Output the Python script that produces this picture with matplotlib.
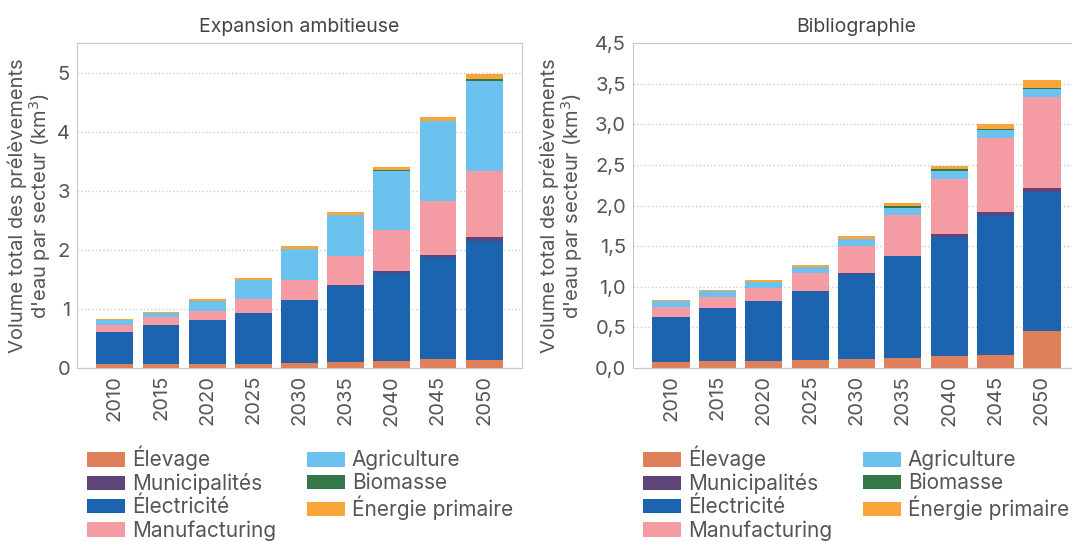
import matplotlib.pyplot as plt
from matplotlib.patches import Patch
import numpy as np

plt.rcParams['font.family'] = ['Inter', 'DejaVu Sans']

years = ['2010', '2015', '2020', '2025', '2030', '2035', '2040', '2045', '2050']
sectors = ['Élevage', 'Électricité', 'Municipalités', 'Manufacturing',
           'Agriculture', 'Biomasse', 'Énergie primaire']
colors = {'Élevage': '#E0805A', 'Municipalités': '#5E4479', 'Électricité': '#1C64B0',
          'Manufacturing': '#F49BA4', 'Agriculture': '#6CC2EE', 'Biomasse': '#35774A',
          'Énergie primaire': '#F8A53A'}

# Expansion ambitieuse (km3)
exp_elevage = [0.06, 0.07, 0.07, 0.07, 0.09, 0.11, 0.12, 0.16, 0.14]
exp_electricite = [0.55, 0.66, 0.74, 0.86, 1.06, 1.28, 1.49, 1.72, 2.01]
exp_municipalites = [0.0, 0.005, 0.005, 0.005, 0.005, 0.01, 0.04, 0.035, 0.07]
exp_manufacturing = [0.12, 0.13, 0.15, 0.225, 0.34, 0.5, 0.69, 0.91, 1.115]
exp_agriculture = [0.085, 0.06, 0.165, 0.33, 0.52, 0.69, 0.99, 1.35, 1.52]
exp_biomasse = [0.0, 0.0, 0.0, 0.0, 0.0, 0.0, 0.02, 0.01, 0.035]
exp_energie = [0.015, 0.02, 0.04, 0.035, 0.05, 0.05, 0.05, 0.06, 0.085]

# Bibliographie (km3)
bib_elevage = [0.08, 0.09, 0.09, 0.10, 0.115, 0.127, 0.15, 0.165, 0.46]
bib_electricite = [0.55, 0.65, 0.74, 0.85, 1.045, 1.25, 1.465, 1.715, 1.71]
bib_municipalites = [0.0, 0.0, 0.0, 0.0, 0.005, 0.005, 0.03, 0.045, 0.05]
bib_manufacturing = [0.12, 0.13, 0.15, 0.215, 0.34, 0.505, 0.685, 0.9, 1.12]
bib_agriculture = [0.075, 0.08, 0.075, 0.08, 0.085, 0.086, 0.1, 0.1, 0.095]
bib_biomasse = [0.0, 0.0, 0.0, 0.0, 0.0, 0.024, 0.025, 0.012, 0.012]
bib_energie = [0.012, 0.016, 0.025, 0.025, 0.037, 0.037, 0.037, 0.07, 0.1]

exp_data = [exp_elevage, exp_electricite, exp_municipalites, exp_manufacturing,
            exp_agriculture, exp_biomasse, exp_energie]
bib_data = [bib_elevage, bib_electricite, bib_municipalites, bib_manufacturing,
            bib_agriculture, bib_biomasse, bib_energie]

legend_order = ['Élevage', 'Municipalités', 'Électricité', 'Manufacturing',
                'Agriculture', 'Biomasse', 'Énergie primaire']

W, H = 1072, 541
fig = plt.figure(figsize=(W / 100, H / 100), dpi=100)

def px(x0, y0, x1, y1):
    return [x0 / W, 1 - y1 / H, (x1 - x0) / W, (y1 - y0) / H]

ax1 = fig.add_axes(px(77, 43, 522, 368))
ax2 = fig.add_axes(px(633, 43, 1080, 368))

grey = '#555555'

def draw(ax, data, title, ylim, yticks, ylabels, lx):
    x = np.arange(len(years))
    bottom = np.zeros(len(years))
    for name, vals in zip(sectors, data):
        ax.bar(x, vals, 0.8, bottom=bottom, color=colors[name], linewidth=0)
        bottom += np.array(vals)
    ax.set_xlim(-0.82, 8.82)
    ax.set_ylim(*ylim)
    ax.set_xticks(x)
    ax.set_xticklabels(years, rotation=90)
    ax.set_yticks(yticks)
    ax.set_yticklabels(ylabels)
    ax.tick_params(length=0, labelsize=14.5, colors=grey, pad=5)
    ax.grid(axis='y', linestyle=':', color='#cccccc', linewidth=1)
    ax.set_axisbelow(True)
    for s in ax.spines.values():
        s.set_color('#c8c8c8')
    ax.set_title(title, fontsize=14, color='#444444', pad=8)
    ax.set_ylabel("Volume total des prélèvements\nd'eau par secteur (km$^3$)",
                  fontsize=14.5, color=grey, linespacing=1.0)
    ax.yaxis.set_label_coords(lx, 0.5)

draw(ax1, exp_data, 'Expansion ambitieuse', (0, 5.5),
     [0, 1, 2, 3, 4, 5], ['0', '1', '2', '3', '4', '5'], -0.054)
draw(ax2, bib_data, 'Bibliographie', (0, 4.0),
     [0, 0.5, 1.0, 1.5, 2.0, 2.5, 3.0, 3.5, 4.0],
     ['0,0', '0,5', '1,0', '1,5', '2,0', '2,5', '3,0', '3,5', '4,5'], -0.107)

handles = [Patch(facecolor=colors[n], label=n) for n in legend_order]
for lx in (87, 643):
    fig.legend(handles=handles, ncol=2, loc='upper left',
               bbox_to_anchor=(lx / W, 1 - 446 / H), frameon=False,
               fontsize=15, labelcolor=grey, handlelength=1.8, handleheight=0.7,
               handletextpad=0.35, labelspacing=0.13, columnspacing=1.5,
               borderaxespad=0, borderpad=0)

fig.savefig('out.png', dpi=100)
